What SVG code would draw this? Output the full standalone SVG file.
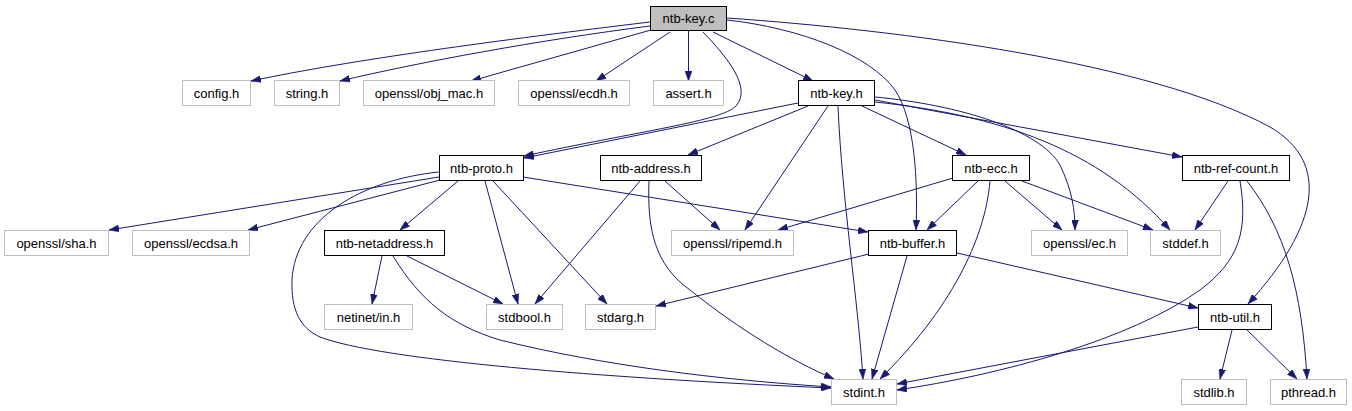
<svg xmlns="http://www.w3.org/2000/svg" width="1352" height="411" viewBox="0 0 1352 411">
<style>
.n rect{fill:#fff;stroke:#000;stroke-width:1}
.n.ext rect{stroke:#bfbfbf}
.n.root rect{fill:#bfbfbf}
.n text{font-family:"Liberation Sans",Arial,sans-serif;font-size:13px;text-anchor:middle;fill:#000}
#edges path{fill:none;stroke:#191970;stroke-width:1;marker-end:url(#ah)}
</style>
<defs>
<marker id="ah" viewBox="0 0 10 7" refX="10" refY="3.5" markerWidth="10" markerHeight="7" markerUnits="userSpaceOnUse" orient="auto">
<path d="M0,0 L10,3.5 L0,7 z" fill="#191970" stroke="#191970" stroke-width="0.5"/>
</marker>
</defs>
<rect width="1352" height="411" fill="#fff"/>
<g id="edges">
<path d="M650,22 C500,40 350,60 251,81"/>
<path d="M650,26 C540,40 420,62 340,81"/>
<path d="M651,30 L471,81"/>
<path d="M670,32 L596,81"/>
<path d="M688.5,31 L688.5,81"/>
<path d="M713,32 L813,81"/>
<path d="M703,32 C728,58 752,88 736,106 C722,121 640,131 524,156"/>
<path d="M727,20 C800,28 870,55 895,90 C915,120 918,180 916,230"/>
<path d="M727,18 C900,30 1150,62 1270,127 C1330,162 1320,225 1248,304"/>
<path d="M798,103 L524,158"/>
<path d="M808,106 L688,155"/>
<path d="M828,106 L745,230"/>
<path d="M838,106 C842,200 858,300 863,379"/>
<path d="M862,106 L966,155"/>
<path d="M875,97 C960,105 1040,130 1060,165 C1072,190 1075,210 1075,230"/>
<path d="M875,102 C1000,115 1100,150 1170,230"/>
<path d="M875,100 L1182,157"/>
<path d="M439,177 L109,230"/>
<path d="M440,180 L248,230"/>
<path d="M458,181 L400,230"/>
<path d="M439,172 C360,180 295,220 292,280 C291,310 300,328 320,337 C380,360 600,378 831,388"/>
<path d="M485,181 L518,304"/>
<path d="M493,181 L607,304"/>
<path d="M523,177 L868,232"/>
<path d="M665,181 L720,230"/>
<path d="M640,181 L535,304"/>
<path d="M649,181 C647,230 655,265 690,290 C740,330 790,360 834,379"/>
<path d="M953,178 L778,230"/>
<path d="M978,181 L927,230"/>
<path d="M1005,181 L1062,230"/>
<path d="M1022,181 L1153,230"/>
<path d="M990,181 C985,240 950,310 880,379"/>
<path d="M1228,181 L1195,230"/>
<path d="M1240,181 C1248,230 1240,260 1200,290 C1130,340 1000,375 897,390"/>
<path d="M1247,181 C1285,230 1302,290 1307,379"/>
<path d="M382,256 L372,304"/>
<path d="M407,256 L503,304"/>
<path d="M393,256 C420,300 450,325 500,340 C600,365 720,380 831,387"/>
<path d="M869,254 L656,306"/>
<path d="M907,256 L872,379"/>
<path d="M957,253 L1198,308"/>
<path d="M1198,327 L897,384"/>
<path d="M1232,330 L1220,379"/>
<path d="M1247,330 L1297,379"/>
</g>
<g id="n-ntb-key-c" class="n root"><rect x="650.5" y="6.5" width="76" height="24"/><text x="688.5" y="23">ntb-key.c</text></g>
<g id="n-config" class="n ext"><rect x="182.5" y="80.5" width="68" height="25"/><text x="216.5" y="97.5">config.h</text></g>
<g id="n-string" class="n ext"><rect x="274.5" y="80.5" width="65" height="25"/><text x="307" y="97.5">string.h</text></g>
<g id="n-obj-mac" class="n ext"><rect x="363.5" y="80.5" width="131" height="25"/><text x="429" y="97.5">openssl/obj_mac.h</text></g>
<g id="n-ecdh" class="n ext"><rect x="518.5" y="80.5" width="111" height="25"/><text x="574" y="97.5">openssl/ecdh.h</text></g>
<g id="n-assert" class="n ext"><rect x="653.5" y="80.5" width="70" height="25"/><text x="688.5" y="97.5">assert.h</text></g>
<g id="n-ntb-key-h" class="n"><rect x="798.5" y="80.5" width="76" height="25"/><text x="836.5" y="97.5">ntb-key.h</text></g>
<g id="n-ntb-proto" class="n"><rect x="439.5" y="155.5" width="84" height="25"/><text x="481.5" y="172.5">ntb-proto.h</text></g>
<g id="n-ntb-address" class="n"><rect x="600.5" y="155.5" width="101" height="25"/><text x="651" y="172.5">ntb-address.h</text></g>
<g id="n-ntb-ecc" class="n"><rect x="952.5" y="155.5" width="77" height="25"/><text x="991" y="172.5">ntb-ecc.h</text></g>
<g id="n-ntb-ref-count" class="n"><rect x="1182.5" y="155.5" width="107" height="25"/><text x="1236" y="172.5">ntb-ref-count.h</text></g>
<g id="n-sha" class="n ext"><rect x="4.5" y="230.5" width="104" height="25"/><text x="56.5" y="247.5">openssl/sha.h</text></g>
<g id="n-ecdsa" class="n ext"><rect x="132.5" y="230.5" width="117" height="25"/><text x="191" y="247.5">openssl/ecdsa.h</text></g>
<g id="n-ntb-netaddress" class="n"><rect x="324.5" y="230.5" width="120" height="25"/><text x="384.5" y="247.5">ntb-netaddress.h</text></g>
<g id="n-ripemd" class="n ext"><rect x="671.5" y="230.5" width="122" height="25"/><text x="732.5" y="247.5">openssl/ripemd.h</text></g>
<g id="n-ntb-buffer" class="n"><rect x="868.5" y="230.5" width="88" height="25"/><text x="912.5" y="247.5">ntb-buffer.h</text></g>
<g id="n-ec" class="n ext"><rect x="1031.5" y="230.5" width="96" height="25"/><text x="1079.5" y="247.5">openssl/ec.h</text></g>
<g id="n-stddef" class="n ext"><rect x="1150.5" y="230.5" width="70" height="25"/><text x="1185.5" y="247.5">stddef.h</text></g>
<g id="n-netinet" class="n ext"><rect x="324.5" y="304.5" width="88" height="25"/><text x="368.5" y="321.5">netinet/in.h</text></g>
<g id="n-stdbool" class="n ext"><rect x="486.5" y="304.5" width="76" height="25"/><text x="524.5" y="321.5">stdbool.h</text></g>
<g id="n-stdarg" class="n ext"><rect x="585.5" y="304.5" width="70" height="25"/><text x="620.5" y="321.5">stdarg.h</text></g>
<g id="n-ntb-util" class="n"><rect x="1198.5" y="304.5" width="73" height="25"/><text x="1235" y="321.5">ntb-util.h</text></g>
<g id="n-stdint" class="n ext"><rect x="831.5" y="379.5" width="65" height="25"/><text x="864" y="396.5">stdint.h</text></g>
<g id="n-stdlib" class="n ext"><rect x="1181.5" y="379.5" width="65" height="25"/><text x="1214" y="396.5">stdlib.h</text></g>
<g id="n-pthread" class="n ext"><rect x="1270.5" y="379.5" width="76" height="25"/><text x="1308.5" y="396.5">pthread.h</text></g>
</svg>
